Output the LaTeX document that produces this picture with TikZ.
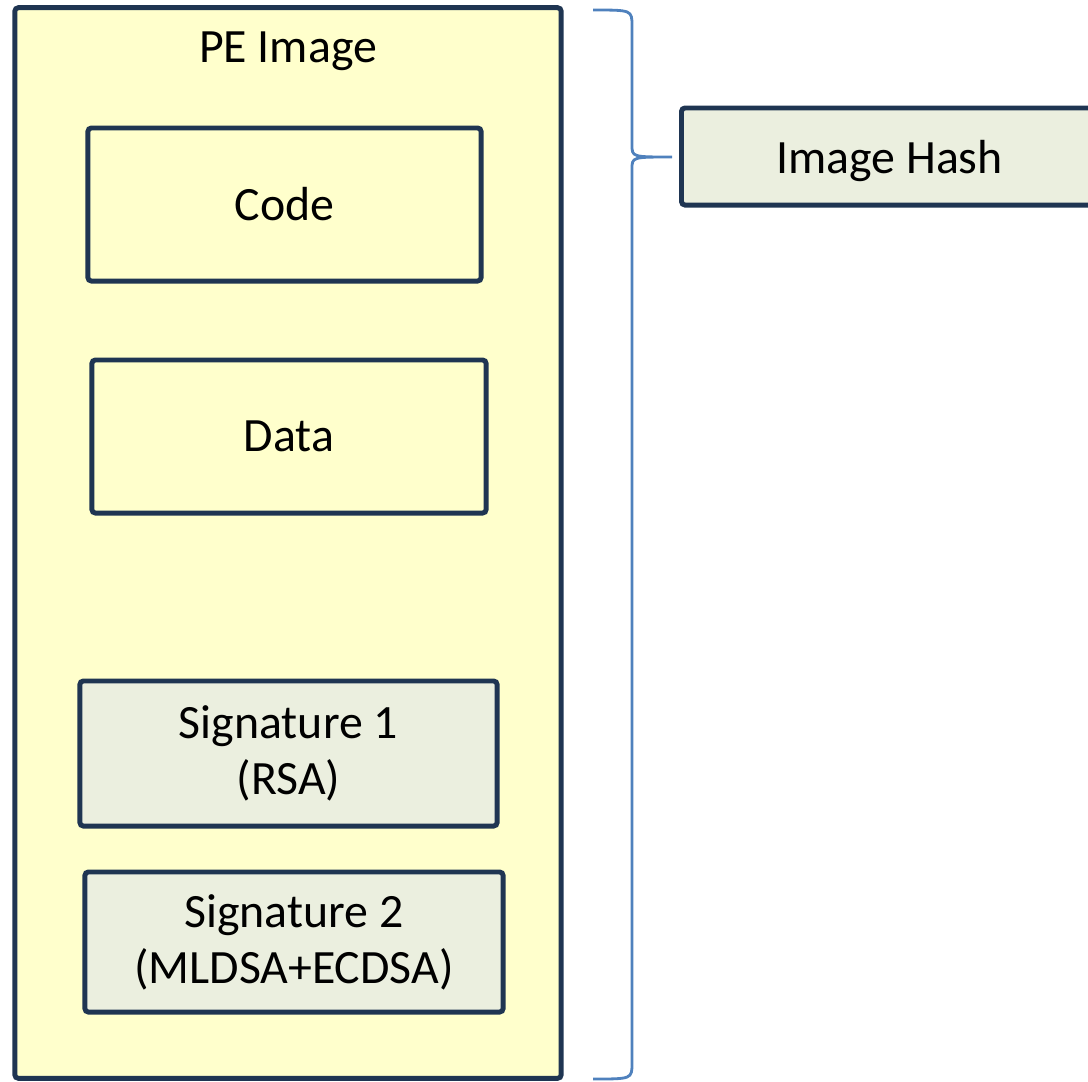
\documentclass[tikz,border=0pt]{standalone}
\usepackage{fontspec}
\setmainfont{Carlito}
\usepackage{tikz}
\usetikzlibrary{positioning}
\definecolor{peyellow}{HTML}{FFFFCC}
\definecolor{sigfill}{HTML}{EBEFDF}
\definecolor{navyline}{HTML}{1F3552}
\definecolor{braceblue}{HTML}{4F81BD}
\tikzstyle{section} = [rectangle, rounded corners=1pt, line width=1.4pt, draw=navyline, fill=peyellow, text centered, align=center]
\tikzstyle{sigbox} = [section, fill=sigfill]
\tikzstyle{hashbrace} = [draw=braceblue, line width=0.8pt]

\begin{document}
\begin{tikzpicture}[x=0.01cm, y=-0.01cm, font=\fontsize{13.6}{16}\selectfont]

\useasboundingbox (0,0) rectangle (1088,1081);

\node (pe) [section, minimum width=5.46cm, minimum height=10.70cm] at (288,543) {};
\node (title) at (288,51) {PE Image};
\node (code) [section, minimum width=3.93cm, minimum height=1.53cm] at (284.5,204.5) {Code};
\node (data) [section, minimum width=3.94cm, minimum height=1.53cm] at (289,436.5) {Data};
\node (sig1) [sigbox, minimum width=4.17cm, minimum height=1.45cm] at (288.5,753.5) {Signature 1\\(RSA)};
\node (sig2) [sigbox, minimum width=4.18cm, minimum height=1.40cm] at (294,942) {Signature 2\\(MLDSA+ECDSA)};

% hash over the whole image
\node (hash) [sigbox, text depth=0pt, minimum width=4.16cm, minimum height=0.97cm, anchor=west] at (679,156.5) {Image Hash};
\coordinate (bracetop) at (593,10);
\coordinate (bracetip) at (672,157);
\coordinate (bracebot) at (593,1079);
\draw [hashbrace] (bracetop) .. controls (632,10) .. (632,26) -- (632,145)
  .. controls (632,157) .. (bracetip) .. controls (632,157) .. (632,169)
  -- (632,1063) .. controls (632,1079) .. (bracebot);

\end{tikzpicture}
\end{document}
